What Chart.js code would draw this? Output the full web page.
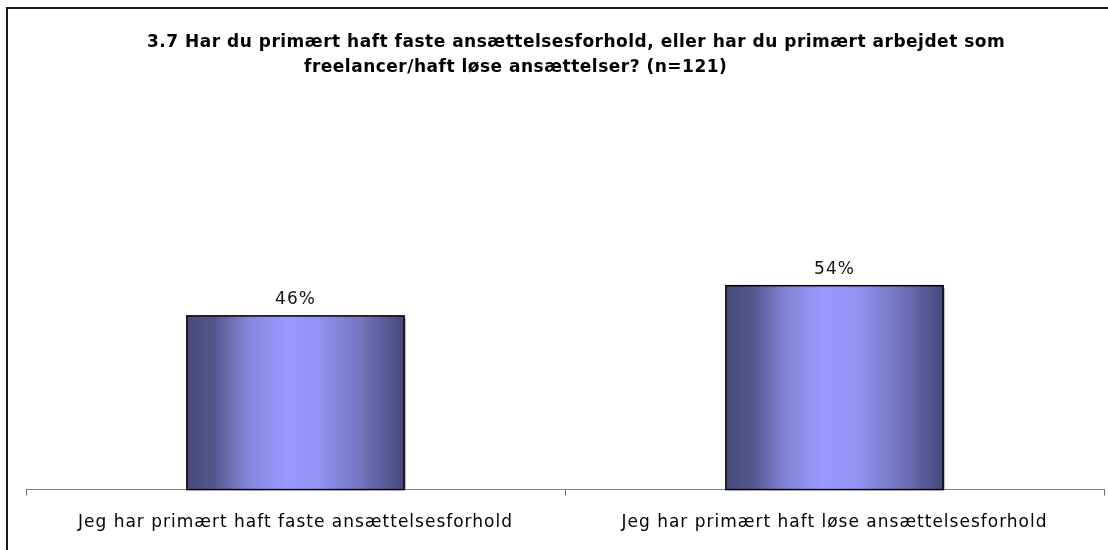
<!DOCTYPE html>
<html lang="da">

<head>
    <meta charset="UTF-8">
    <title>3.7 Ansættelsesforhold</title>
    <style>
        body { margin: 0; background: #fff; }
        #wrap { width: 1108px; height: 550px; position: relative; }
    </style>
</head>

<body>
    <div id="wrap">
        <canvas id="myChart"></canvas>
    </div>
    <script src="https://cdn.jsdelivr.net/npm/chart.js"></script>
    <script>
        const titleLines = [
            '3.7 Har du primært haft faste ansættelsesforhold, eller har du primært arbejdet som',
            'freelancer/haft løse ansættelser? (n=121)'
        ];
        const labels = ['Jeg har primært haft faste ansættelsesforhold', 'Jeg har primært haft løse ansættelsesforhold'];
        const values = [46, 54];

        // frame + title, drawn like the old excel chart
        const framePlugin = {
            id: 'frame',
            // the original font (Tahoma) runs wider than DejaVu
            beforeUpdate(chart) {
                chart.ctx.letterSpacing = '1px';
            },
            beforeDraw(chart) {
                const c = chart.ctx;
                c.letterSpacing = '1px';
                c.save();
                c.strokeStyle = '#1a1a1a';
                c.lineWidth = 2;
                c.beginPath();
                c.moveTo(7, 550);
                c.lineTo(7, 8);
                c.lineTo(1108, 8);
                c.stroke();

                c.fillStyle = '#000';
                c.font = 'bold 17px "DejaVu Sans"';
                c.letterSpacing = '0.5px';
                c.textBaseline = 'middle';
                c.textAlign = 'left';
                c.fillText(titleLines[0], 147, 43);
                c.fillText(titleLines[1], 304, 68);
                c.restore();
            }
        };

        // gradient fill for bars + value labels
        const barPlugin = {
            id: 'bars',
            afterDatasetsDraw(chart) {
                const c = chart.ctx;
                const meta = chart.getDatasetMeta(0);
                meta.data.forEach((bar, i) => {
                    const left = bar.x - bar.width / 2;
                    const w = bar.width;
                    const top = bar.y;
                    const h = bar.base - bar.y;
                    c.save();
                    // little shadow
                    c.fillStyle = 'rgba(0,0,0,0.25)';
                    c.fillRect(left + 2, top + 2, w, h - 2);
                    const g = c.createLinearGradient(left, 0, left + w, 0);
                    g.addColorStop(0, '#4a4a7c');
                    g.addColorStop(0.12, '#55558c');
                    g.addColorStop(0.28, '#8585d9');
                    g.addColorStop(0.45, '#9999ff');
                    g.addColorStop(0.6, '#9393f4');
                    g.addColorStop(0.8, '#7474bf');
                    g.addColorStop(1, '#47477a');
                    c.fillStyle = g;
                    c.fillRect(left, top, w, h);
                    c.strokeStyle = '#000';
                    c.lineWidth = 1.5;
                    c.strokeRect(left, top, w, h);

                    c.fillStyle = '#111';
                    c.font = '17px "DejaVu Sans"';
                    c.textAlign = 'center';
                    c.textBaseline = 'middle';
                    c.fillText(values[i] + '%', bar.x, top - 16);
                    c.restore();
                });
            }
        };

        const ctx = document.getElementById('myChart');

        new Chart(ctx, {
            type: 'bar',
            data: {
                labels: labels,
                datasets: [{
                    data: values,
                    backgroundColor: 'rgba(0,0,0,0)',
                    borderWidth: 0,
                    barPercentage: 0.403,
                    categoryPercentage: 1
                }]
            },
            options: {
                responsive: true,
                maintainAspectRatio: false,
                animation: false,
                layout: {
                    padding: { left: 26, right: 4, top: 112, bottom: 0 }
                },
                scales: {
                    x: {
                        grid: {
                            display: true,
                            drawOnChartArea: false,
                            tickLength: 6,
                            color: '#707070'
                        },
                        border: { color: '#808080', width: 1 },
                        ticks: {
                            color: '#000',
                            padding: 17,
                            font: { family: 'DejaVu Sans', size: 17 }
                        }
                    },
                    y: {
                        display: false,
                        min: 0,
                        max: 100
                    }
                },
                plugins: {
                    legend: { display: false },
                    tooltip: { enabled: false }
                }
            },
            plugins: [framePlugin, barPlugin]
        });
    </script>
</body>

</html>
